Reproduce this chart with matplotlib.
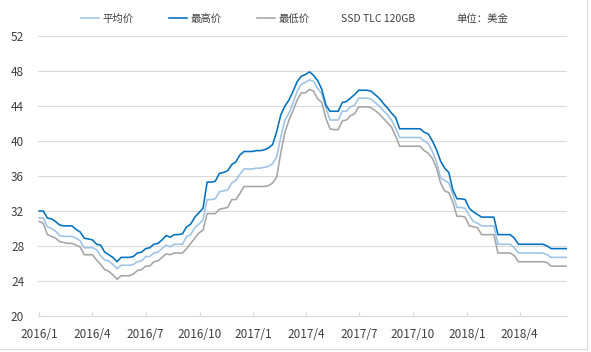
import matplotlib
matplotlib.use("Agg")
import matplotlib.pyplot as plt
import matplotlib.dates as mdates
from matplotlib.lines import Line2D
import numpy as np
import pandas as pd

plt.rcParams['font.family'] = ['Noto Sans CJK SC', 'DejaVu Sans']

# weekly observation dates
dates = pd.date_range('2016-01-01', periods=130, freq='7D')

avg_price = [
    31.2, 31.2, 30.2, 30.0, 29.7, 29.2, 29.1, 29.1, 29.1, 28.9,
    28.6, 27.8, 27.8, 27.8, 27.6, 26.9, 26.4, 26.3, 25.9, 25.4,
    25.8, 25.8, 25.8, 25.9, 26.2, 26.3, 26.8, 26.8, 27.2, 27.3,
    27.7, 28.1, 27.9, 28.2, 28.2, 28.2, 29.1, 29.3, 30.1, 30.5,
    31.0, 33.3, 33.3, 33.4, 34.2, 34.3, 34.4, 35.2, 35.5, 36.2,
    36.8, 36.8, 36.8, 36.9, 36.9, 37.0, 37.1, 37.4, 38.2, 40.5,
    42.4, 43.2, 44.4, 45.7, 46.5, 46.7, 47.0, 46.8, 46.0, 45.4,
    43.8, 42.4, 42.4, 42.4, 43.4, 43.4, 43.9, 44.1, 44.9, 44.9,
    44.9, 44.8, 44.4, 44.0, 43.5, 43.0, 42.4, 41.5, 40.4, 40.4,
    40.4, 40.4, 40.4, 40.4, 40.0, 39.7, 38.8, 37.6, 35.8, 35.5,
    35.2, 33.9, 32.4, 32.4, 32.3, 31.5, 30.8, 30.6, 30.3, 30.3,
    30.3, 30.3, 28.2, 28.2, 28.2, 28.2, 27.8, 27.2, 27.2, 27.2,
    27.2, 27.2, 27.2, 27.2, 27.0, 26.7, 26.7, 26.7, 26.7, 26.7,
]

max_price = [
    32.0, 32.0, 31.2, 31.1, 30.8, 30.4, 30.3, 30.3, 30.3, 29.9,
    29.6, 28.9, 28.8, 28.7, 28.2, 28.1, 27.3, 27.0, 26.7, 26.2,
    26.7, 26.7, 26.7, 26.8, 27.2, 27.3, 27.7, 27.8, 28.2, 28.3,
    28.7, 29.2, 29.0, 29.3, 29.3, 29.4, 30.2, 30.5, 31.3, 31.8,
    32.3, 35.3, 35.3, 35.4, 36.3, 36.4, 36.6, 37.3, 37.6, 38.4,
    38.8, 38.8, 38.8, 38.9, 38.9, 39.0, 39.2, 39.6, 41.1, 43.0,
    44.0, 44.7, 45.7, 46.8, 47.4, 47.6, 47.9, 47.5, 46.9, 45.9,
    44.1, 43.4, 43.4, 43.4, 44.4, 44.5, 44.9, 45.3, 45.8, 45.8,
    45.8, 45.7, 45.3, 44.9, 44.3, 43.8, 43.2, 42.7, 41.4, 41.4,
    41.4, 41.4, 41.4, 41.4, 41.0, 40.8, 40.0, 39.0, 37.7, 36.9,
    36.4, 34.4, 33.4, 33.4, 33.3, 32.3, 31.9, 31.6, 31.3, 31.3,
    31.3, 31.3, 29.3, 29.3, 29.3, 29.3, 28.9, 28.2, 28.2, 28.2,
    28.2, 28.2, 28.2, 28.2, 28.0, 27.7, 27.7, 27.7, 27.7, 27.7,
]

min_price = [
    30.8, 30.6, 29.3, 29.1, 28.9, 28.5, 28.4, 28.3, 28.3, 28.1,
    27.9, 27.0, 27.0, 27.0, 26.4, 25.9, 25.3, 25.1, 24.7, 24.2,
    24.6, 24.6, 24.6, 24.8, 25.2, 25.3, 25.7, 25.7, 26.2, 26.3,
    26.7, 27.1, 27.0, 27.2, 27.2, 27.2, 27.7, 28.3, 28.9, 29.5,
    29.8, 31.7, 31.7, 31.7, 32.2, 32.3, 32.4, 33.3, 33.3, 34.0,
    34.8, 34.8, 34.8, 34.8, 34.8, 34.8, 34.9, 35.2, 35.9, 38.7,
    41.0, 42.4, 43.5, 44.7, 45.5, 45.5, 45.9, 45.7, 44.8, 44.4,
    42.6, 41.4, 41.3, 41.3, 42.3, 42.4, 42.9, 43.1, 43.9, 43.9,
    43.9, 43.8, 43.5, 43.1, 42.6, 42.1, 41.6, 40.6, 39.4, 39.4,
    39.4, 39.4, 39.4, 39.4, 38.9, 38.6, 38.0, 36.9, 35.2, 34.3,
    34.1, 33.0, 31.4, 31.4, 31.3, 30.3, 30.2, 30.1, 29.3, 29.3,
    29.3, 29.3, 27.2, 27.2, 27.2, 27.2, 26.9, 26.2, 26.2, 26.2,
    26.2, 26.2, 26.2, 26.2, 26.1, 25.7, 25.7, 25.7, 25.7, 25.7,
]

series_names = ['平均价', '最高价', '最低价']
series_colors = ['#9dc3e6', '#0070c0', '#a5a5a5']
tick_dates = pd.to_datetime(['2016-01-01', '2016-04-01', '2016-07-01', '2016-10-01',
                             '2017-01-01', '2017-04-01', '2017-07-01', '2017-10-01',
                             '2018-01-01', '2018-04-01'])
tick_labels = ['2016/1', '2016/4', '2016/7', '2016/10', '2017/1',
               '2017/4', '2017/7', '2017/10', '2018/1', '2018/4']
y_ticks = [20, 24, 28, 32, 36, 40, 44, 48, 52]
title_text = 'SSD TLC 120GB'
unit_text = '单位：美金'

W, H = 591, 352
fig = plt.figure(figsize=(W / 100, H / 100), dpi=100)
ax = fig.add_axes([38 / W, 1 - 316 / H, (567 - 38) / W, (316 - 36) / H])

lines = []
for vals, name, col in zip([avg_price, max_price, min_price], series_names, series_colors):
    ln, = ax.plot(dates, vals, color=col, lw=1.15, label=name, solid_joinstyle='round')
    lines.append(ln)

ax.set_ylim(20, 52)
ax.set_yticks(y_ticks)
ax.set_xlim(dates[0] - pd.Timedelta(days=2), dates[-1] - pd.Timedelta(days=1))
ax.set_xticks(tick_dates)
ax.set_xticklabels(tick_labels)

ax.grid(axis='y', color='#d9d9d9', lw=0.8)
ax.set_axisbelow(True)
for s in ['top', 'right', 'left']:
    ax.spines[s].set_visible(False)
ax.spines['bottom'].set_color('#d9d9d9')
ax.spines['bottom'].set_linewidth(0.8)

ax.tick_params(axis='y', length=0, pad=10, labelsize=8.5, labelcolor='#404040')
ax.tick_params(axis='x', direction='in', length=3, color='#d9d9d9', pad=9,
               labelsize=8.5, labelcolor='#404040')

leg = fig.legend(handles=lines, loc='center left', bbox_to_anchor=(81 / W, 1 - 19 / H),
                 bbox_transform=fig.transFigure, ncol=3, frameon=False,
                 fontsize=7.5, handlelength=1.75, handletextpad=0.3,
                 columnspacing=3.4, borderpad=0, borderaxespad=0)
for t in leg.get_texts():
    t.set_color('#404040')

fig.text(341 / W, 1 - 19 / H, title_text, fontsize=7.5, color='#404040', va='center', ha='left')
fig.text(456 / W, 1 - 19 / H, unit_text, fontsize=7.5, color='#404040', va='center', ha='left')

# light frame on right and bottom
fig.add_artist(Line2D([587 / W, 587 / W], [1 - 349 / H, 1], transform=fig.transFigure,
                      color='#d9d9d9', lw=0.8))
fig.add_artist(Line2D([0, 587 / W], [1 - 349 / H, 1 - 349 / H], transform=fig.transFigure,
                      color='#d9d9d9', lw=0.8))

fig.savefig('out.png', dpi=100)
